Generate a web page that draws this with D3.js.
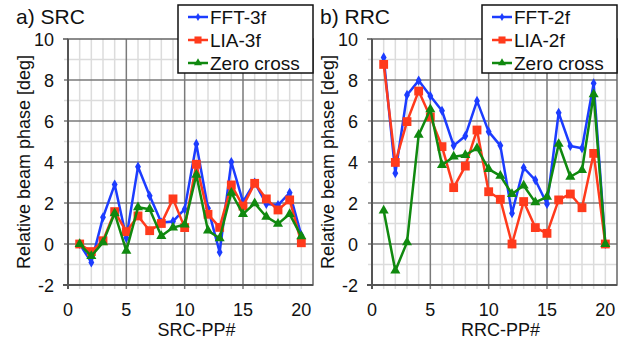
<!DOCTYPE html>
<html>
<head>
<meta charset="utf-8">
<script src="https://cdn.jsdelivr.net/npm/d3@7"></script>
<style>
  body { margin: 0; background: #fff; }
  svg { display: block; font-family: "Liberation Sans", Helvetica, Arial, sans-serif; }
</style>
</head>
<body>
<svg id="chart" width="627" height="342"></svg>
<script>
'use strict';

// pick-up number, 1..20
const PP = [1, 2, 3, 4, 5, 6, 7, 8, 9, 10, 11, 12, 13, 14, 15, 16, 17, 18, 19, 20];

// a) SRC
const srcFFT  = [0, -0.9, 1.3, 2.9, 0.3, 3.77, 2.35, 1.05, 1.1, 1.7, 4.88, 1.74, -0.4, 4.0, 2.05, 3.0, 1.95, 1.9, 2.5, 0.42];
const srcLIA  = [0, -0.37, 0.16, 1.58, 0.6, 1.37, 0.65, 1.0, 2.2, 0.8, 3.89, 1.45, 0.81, 2.88, 1.85, 2.96, 2.2, 1.66, 2.15, 0.06];
const srcZero = [0, -0.59, 0.08, 1.5, -0.33, 1.79, 1.7, 0.39, 0.8, 0.95, 3.37, 0.65, 0.28, 2.5, 1.46, 1.98, 1.33, 0.98, 1.46, 0.37];

// b) RRC
const rrcFFT  = [9.1, 3.45, 7.27, 7.97, 7.22, 6.5, 4.8, 5.27, 6.98, 5.48, 4.8, 1.5, 3.72, 3.12, 1.95, 6.4, 4.78, 4.67, 7.84, 0];
const rrcLIA  = [8.76, 3.98, 5.97, 7.46, 6.2, 4.75, 2.75, 3.8, 5.56, 2.55, 2.18, 0, 2.07, 0.8, 0.52, 2.15, 2.44, 1.77, 4.42, 0];
const rrcZero = [1.63, -1.3, 0.08, 5.32, 6.57, 3.85, 4.26, 4.34, 4.67, 3.65, 3.32, 2.44, 2.85, 2.03, 2.3, 4.88, 3.28, 3.6, 7.3, 0];

const xTicks = [0, 5, 10, 15, 20];
const yTicks = [-2, 0, 2, 4, 6, 8, 10];

const svg = d3.select('#chart');

const colors = { fft: '#1c3cff', lia: '#ff3a1c', zero: '#10890f' };

function markerPath(kind) {
    if (kind === 'fft') return d3.symbol().type(d3.symbolDiamond).size(30)();
    if (kind === 'lia') return d3.symbol().type(d3.symbolSquare).size(78)();
    return d3.symbol().type(d3.symbolTriangle).size(44)();
}

function drawPanel(opt) {
    const x = d3.scaleLinear().domain([0, 21]).range([opt.left, opt.left + 245]);
    const y = d3.scaleLinear().domain([-2, 10]).range([285, 39]);

    const g = svg.append('g');

    // minor grid
    g.append('g').selectAll('line.vmin')
        .data(d3.range(1, 21).filter(d => d % 5 !== 0))
        .enter().append('line')
        .attr('x1', d => x(d)).attr('x2', d => x(d))
        .attr('y1', y(10)).attr('y2', y(-2) + 4)
        .attr('stroke', '#dcdcdc').attr('stroke-width', 1.5);
    g.append('g').selectAll('line.hmin')
        .data([-1, 1, 3, 5, 7, 9])
        .enter().append('line')
        .attr('x1', x(0) - 4).attr('x2', x(21))
        .attr('y1', d => y(d)).attr('y2', d => y(d))
        .attr('stroke', '#dcdcdc').attr('stroke-width', 1.5);

    // major grid
    g.append('g').selectAll('line')
        .data([5, 10, 15, 20])
        .enter().append('line')
        .attr('x1', d => x(d)).attr('x2', d => x(d))
        .attr('y1', y(10)).attr('y2', y(-2) + 4)
        .attr('stroke', d => d === 20 ? '#dcdcdc' : '#7a7a7a').attr('stroke-width', 1.5);
    g.append('g').selectAll('line')
        .data([0, 2, 4, 6, 8])
        .enter().append('line')
        .attr('x1', x(0) - 4).attr('x2', x(21))
        .attr('y1', d => y(d)).attr('y2', d => y(d))
        .attr('stroke', '#7a7a7a').attr('stroke-width', 1.5);

    // frame
    g.append('rect')
        .attr('x', x(0)).attr('y', y(10))
        .attr('width', x(21) - x(0)).attr('height', y(-2) - y(10))
        .attr('fill', 'none').attr('stroke', '#666').attr('stroke-width', 1.5);
    g.append('line')
        .attr('x1', x(0)).attr('x2', x(0)).attr('y1', y(10)).attr('y2', y(-2) + 4)
        .attr('stroke', '#555').attr('stroke-width', 2);
    g.append('line')
        .attr('x1', x(0) - 5).attr('x2', x(21)).attr('y1', y(-2)).attr('y2', y(-2))
        .attr('stroke', '#555').attr('stroke-width', 2);
    g.append('line')
        .attr('x1', x(0) - 5).attr('x2', x(0)).attr('y1', y(10)).attr('y2', y(10))
        .attr('stroke', '#555').attr('stroke-width', 1.5);

    // tick labels
    g.append('g').selectAll('text')
        .data(yTicks)
        .enter().append('text')
        .attr('x', x(0) - 14).attr('y', d => y(d) + 6.5)
        .attr('text-anchor', 'end').attr('font-size', 18).attr('fill', '#111')
        .text(d => d);
    g.append('g').selectAll('text')
        .data(xTicks)
        .enter().append('text')
        .attr('x', d => x(d)).attr('y', 316)
        .attr('text-anchor', 'middle').attr('font-size', 18).attr('fill', '#111')
        .text(d => d);

    // axis titles
    g.append('text')
        .attr('x', (x(0) + x(21)) / 2 + 6).attr('y', 336)
        .attr('text-anchor', 'middle').attr('font-size', 18).attr('fill', '#111')
        .text(opt.xTitle);
    g.append('text')
        .attr('transform', 'translate(' + (x(0) - 38) + ',' + 162 + ') rotate(-90)')
        .attr('text-anchor', 'middle').attr('font-size', 18).attr('fill', '#111')
        .text('Relative beam phase [deg]');

    // panel title
    g.append('text')
        .attr('x', opt.left - 52).attr('y', 24)
        .attr('font-size', 21).attr('fill', '#111')
        .text(opt.title);

    // series
    const line = d3.line().x((d, i) => x(PP[i])).y(d => y(d));
    opt.series.forEach(s => {
        g.append('path')
            .datum(s.values)
            .attr('d', line)
            .attr('fill', 'none')
            .attr('stroke', colors[s.kind])
            .attr('stroke-width', 2.5)
            .attr('stroke-linejoin', 'round');
        g.append('g').selectAll('path')
            .data(s.values)
            .enter().append('path')
            .attr('d', markerPath(s.kind))
            .attr('transform', (d, i) => 'translate(' + x(PP[i]) + ',' + y(d) + ')')
            .attr('fill', colors[s.kind]);
    });

    // legend
    const lx = x(21) - 135, ly = 5;
    const leg = g.append('g');
    leg.append('rect')
        .attr('x', lx).attr('y', ly).attr('width', 135).attr('height', 68)
        .attr('fill', '#fff').attr('stroke', '#111').attr('stroke-width', 1.5);
    opt.series.forEach((s, i) => {
        const cy = ly + 12 + i * 23;
        leg.append('line')
            .attr('x1', lx + 10).attr('x2', lx + 30).attr('y1', cy).attr('y2', cy)
            .attr('stroke', colors[s.kind]).attr('stroke-width', 2.5);
        leg.append('path')
            .attr('d', markerPath(s.kind))
            .attr('transform', 'translate(' + (lx + 20) + ',' + cy + ') scale(0.8)')
            .attr('fill', colors[s.kind]);
        leg.append('text')
            .attr('x', lx + 32).attr('y', cy + 7)
            .attr('font-size', 19).attr('fill', '#111')
            .text(s.label);
    });
}

drawPanel({
    left: 68, title: 'a) SRC', xTitle: 'SRC-PP#',
    series: [
        { kind: 'fft', label: 'FFT-3f', values: srcFFT },
        { kind: 'lia', label: 'LIA-3f', values: srcLIA },
        { kind: 'zero', label: 'Zero cross', values: srcZero }
    ]
});

drawPanel({
    left: 372, title: 'b) RRC', xTitle: 'RRC-PP#',
    series: [
        { kind: 'fft', label: 'FFT-2f', values: rrcFFT },
        { kind: 'lia', label: 'LIA-2f', values: rrcLIA },
        { kind: 'zero', label: 'Zero cross', values: rrcZero }
    ]
});
</script>
</body>
</html>
